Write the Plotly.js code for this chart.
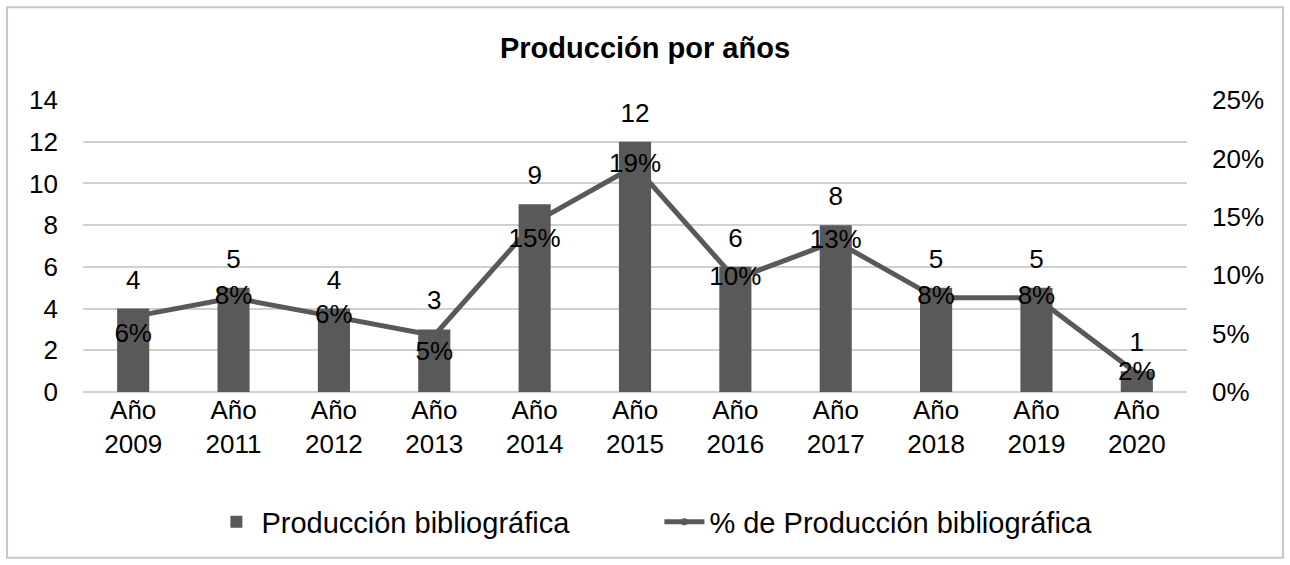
<!DOCTYPE html>
<html><head><meta charset="utf-8">
<script src="https://cdn.plot.ly/plotly-3.0.1.min.js"></script>
<style>body{margin:0;background:#fff}#c{width:1290px;height:565px}</style>
</head><body><div id="c"></div>
<script>
const categories = ["Año<br>2009","Año<br>2011","Año<br>2012","Año<br>2013","Año<br>2014","Año<br>2015","Año<br>2016","Año<br>2017","Año<br>2018","Año<br>2019","Año<br>2020"];
const produccion = [4,5,4,3,9,12,6,8,5,5,1];
const porcentaje = [0.0645,0.0806,0.0645,0.0484,0.1452,0.1935,0.0968,0.129,0.0806,0.0806,0.0161];
const porcentajeLabels = ["6%","8%","6%","5%","15%","19%","10%","13%","8%","8%","2%"];
const porcentajeLabelPos = ["bottom center","middle center","middle center","bottom center","bottom center","middle center","middle center","middle center","middle center","middle center","middle center"];
const yTicks = [0,2,4,6,8,10,12,14];
const y2Ticks = [0,0.05,0.10,0.15,0.20,0.25];
const y2TickText = ["0%","5%","10%","15%","20%","25%"];

const font = "Liberation Sans, Arial, sans-serif";
const data = [
  {type:"bar", name:"Producción bibliográfica", x:categories, y:produccion,
   marker:{color:"#595959"}, width:0.32, hoverinfo:"x+y"},
  {type:"scatter", mode:"markers+text", x:categories, y:produccion, showlegend:false,
   text:produccion.map(String), textposition:"top center", cliponaxis:false,
   textfont:{family:font,size:26,color:"#000"}, hoverinfo:"skip",
   marker:{size:20,color:"rgba(0,0,0,0)"}},
  {type:"scatter", mode:"lines+markers+text", name:"% de Producción bibliográfica",
   x:categories, y:porcentaje, yaxis:"y2", text:porcentajeLabels,
   textposition:porcentajeLabelPos, cliponaxis:false,
   textfont:{family:font,size:26,color:"#000"},
   line:{color:"#595959",width:5}, marker:{color:"#595959",size:7}}
];
const layout = {
  width:1290, height:565,
  margin:{l:83,r:103,t:100,b:173},
  paper_bgcolor:"#fff", plot_bgcolor:"#fff",
  font:{family:font,size:26,color:"#000"},
  title:{text:"<b>Producción por años</b>", x:0.5, xanchor:"center", y:0.915, yanchor:"middle",
         font:{family:font,size:29,color:"#000"}},
  showlegend:true,
  legend:{orientation:"h", x:0.1163, xanchor:"left", y:-0.445, yanchor:"middle",
          font:{family:font,size:29,color:"#000"}, traceorder:"normal", itemwidth:40,
          entrywidth:393, entrywidthmode:"pixels"},
  xaxis:{range:[-0.5,10.5], tickfont:{family:font,size:26,color:"#000"}, showline:false, ticks:"", showgrid:false,
         automargin:false},
  yaxis:{range:[0,14], tickvals:yTicks, ticktext:yTicks.map(String), automargin:false,
         tickfont:{family:font,size:26,color:"#000"}, gridcolor:"#d0d0d0", gridwidth:1.5,
         zeroline:true, zerolinecolor:"#d0d0d0", zerolinewidth:1.5, showline:false, ticks:"", ticklen:0,
         ticklabelstandoff:24},
  yaxis2:{range:[0,0.25], overlaying:"y", side:"right", tickvals:y2Ticks, ticktext:y2TickText, automargin:false,
          tickfont:{family:font,size:26,color:"#000"}, showgrid:false, zeroline:false, showline:false, ticks:"",
          ticklabelstandoff:24},
  shapes:[{type:"rect", xref:"paper", yref:"paper", x0:-0.0688, x1:1.087, y0:-0.568, y1:1.318,
           line:{color:"#c8c8c8",width:2}, fillcolor:"rgba(0,0,0,0)", layer:"below"}]
};
Plotly.newPlot("c", data, layout, {displayModeBar:false});
</script></body></html>
